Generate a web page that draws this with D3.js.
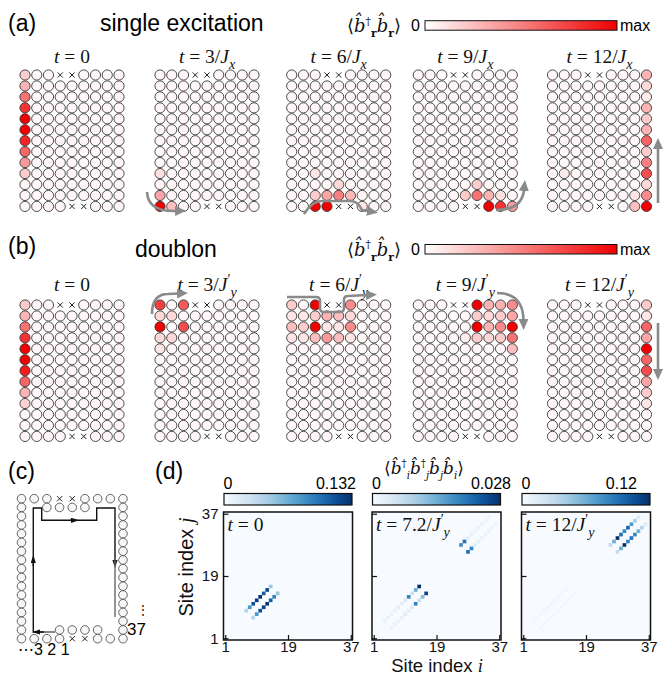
<!DOCTYPE html>
<html>
<head>
<meta charset="utf-8">
<script src="https://cdn.jsdelivr.net/npm/d3@7"></script>
<style>
  body { margin: 0; background: #fff; }
</style>
</head>
<body>
<svg id="fig" width="666" height="675"></svg>
<script>
// lattice shape
const gridCols = 9, gridRows = 13;
const blockedTop = [3, 4], blockedBottom = [4, 5];
const background = 0.03;   // faint occupation of every other site

// snapshot times (numerator of t)
const excitationTimes = ["0", "3", "6", "9", "12"];
const doublonTimes = ["0", "3", "6", "9", "12"];

// <b_r^+ b_r>, relative to max: [row, col, value]
const excitationT0 = [[0,0,.2],[1,0,.3],[2,0,.55],[3,0,.8],[4,0,1],[5,0,1],[6,0,.85],[7,0,.6],[8,0,.4],[9,0,.2]];
const excitationT3 = [[9,0,.12],[11,0,.35],[12,0,1],[12,1,.25]];
const excitationT6 = [[9,2,.1],[10,4,.15],[11,2,.2],[11,3,.35],[11,4,.5],[11,5,.28],[12,2,1],[12,3,1],[12,6,.1]];
const excitationT9 = [[10,5,.2],[11,4,.2],[11,5,.55],[11,6,.3],[11,7,.12],[12,6,1],[12,7,.8],[12,8,.38]];
const excitationT12 = [[0,8,.3],[1,8,.15],[2,8,.08],[3,8,.3],[4,8,.2],[5,8,.3],[6,8,.6],[7,8,.2],[8,8,.5],
                       [9,8,.7],[10,8,.15],[11,8,.45],[12,8,1],[12,7,.25],[11,7,.1],[9,1,.08]];

const doublonT0 = [[0,0,.2],[1,0,.3],[2,0,.55],[3,0,.8],[4,0,1],[5,0,1],[6,0,.9],[7,0,.6],[8,0,.3],[9,0,.18]];
const doublonT3 = [[0,0,.75],[0,2,.65],[1,0,.15],[1,1,.15],[2,0,1],[2,2,.7],[3,0,.15],[3,1,.15],[4,0,.1]];
const doublonT6 = [[0,0,.2],[0,2,1],[0,5,.45],[1,0,.1],[1,1,.1],[1,2,.2],[1,3,.3],[1,4,.25],[1,5,.15],
                   [2,0,.25],[2,1,.2],[2,2,1],[2,3,.1],[2,4,.1],[2,5,.45],[3,0,.1],[3,1,.1],[3,2,.25],
                   [3,3,.4],[3,4,.25],[3,5,.1]];
const doublonT9 = [[0,5,1],[0,6,.3],[0,7,.3],[0,8,.45],[1,5,.2],[1,6,.15],[1,7,.2],[1,8,.35],[2,5,1],
                   [2,6,.3],[2,7,.45],[2,8,1],[3,4,.08],[3,5,.2],[3,6,.15],[3,7,.2],[3,8,.55],[4,8,.25]];
const doublonT12 = [[0,8,.2],[1,8,.1],[2,8,.6],[3,8,.35],[4,8,1],[5,8,.6],[6,8,.7],[7,8,.35],[8,8,.2],[9,8,.1]];

// <b_i^+ b_j^+ b_j b_i>: [i, j, value]
const corrTimes = ["0", "7.2", "12"];
const corrMax = [0.132, 0.028, 0.12];
const corrMaxLabels = ["0.132", "0.028", "0.12"];
const siteTicks = [1, 19, 37];
const corrT0 = [
  [7,9,.04],[8,10,.08],[9,11,.115],[10,12,.125],[11,13,.132],[12,14,.11],[13,15,.12],[14,16,.05],
  [9,7,.04],[10,8,.08],[11,9,.115],[12,10,.125],[13,11,.13],[14,12,.11],[15,13,.09],[16,14,.05]
];
const corrT72 = [
  [11,13,.019],[12,14,.006],[13,15,.014],[14,16,.028],[13,11,.019],[14,12,.006],[15,13,.012],[16,14,.026],
  [4,6,.002],[5,7,.002],[6,8,.002],[7,9,.0025],[8,10,.003],[9,11,.003],[10,12,.004],
  [6,4,.002],[7,5,.002],[8,6,.002],[9,7,.0025],[10,8,.003],[11,9,.003],[12,10,.004],
  [26,28,.018],[27,29,.021],[28,26,.021],[29,27,.019],
  [28,30,.003],[29,31,.0025],[30,32,.002],[31,33,.002],[32,34,.002],[33,35,.0015],[34,36,.0015],
  [30,28,.003],[31,29,.0025],[32,30,.002],[33,31,.002],[34,32,.002],[35,33,.0015],[36,34,.0015]
];
const corrT12 = [
  [26,28,.03],[27,29,.06],[28,30,.12],[29,31,.09],[30,32,.08],[31,33,.095],[32,34,.07],[33,35,.04],[34,36,.015],
  [28,26,.03],[29,27,.06],[30,28,.12],[31,29,.08],[32,30,.09],[33,31,.08],[34,32,.06],[35,33,.035],[36,34,.015],
  [4,6,.004],[5,7,.004],[6,8,.004],[7,9,.005],[8,10,.005],[9,11,.005],[10,12,.005],[11,13,.005],[12,14,.004],[13,15,.004],[14,16,.003],
  [6,4,.004],[7,5,.004],[8,6,.004],[9,7,.005],[10,8,.005],[11,9,.005],[12,10,.005],[13,11,.005],[14,12,.004],[15,13,.004],[16,14,.003]
];

const sans = "'Liberation Sans', Arial, sans-serif";
const serif = "'Liberation Serif', 'DejaVu Serif', serif";
const svg = d3.select('#fig');
const defs = svg.append('defs');
const red = d3.interpolateRgb('#ffffff', '#f00000');

// arrow heads
function marker(id, color, len, half) {
  defs.append('marker').attr('id', id)
    .attr('viewBox', `0 ${-half} ${len} ${2 * half}`)
    .attr('markerUnits', 'userSpaceOnUse')
    .attr('markerWidth', len).attr('markerHeight', 2 * half)
    .attr('refX', 1).attr('refY', 0).attr('orient', 'auto')
    .append('path').attr('d', `M0,${-half}L${len},0L0,${half}Z`).attr('fill', color);
}
marker('grayHead', '#8a8a8a', 11, 5);
marker('blackHead', '#111', 8, 2.6);

// text with italic / sub / sup pieces
function mathText(g, x, y, size, parts, anchor, family) {
  const t = g.append('text').attr('x', x).attr('y', y)
    .attr('font-family', family || serif).attr('font-size', size)
    .attr('text-anchor', anchor || 'start').attr('fill', '#111');
  let cur = 0;
  parts.forEach(p => {
    const off = (p.off || 0) * size;
    const s = t.append('tspan').text(p.s).attr('dy', off - cur);
    cur = off;
    if (p.i) s.attr('font-style', 'italic');
    if (p.b) s.attr('font-weight', 'bold');
    if (p.fs) s.attr('font-size', size * p.fs);
  });
  return t;
}

// ---------- panels (a) and (b) ----------
const colX = [25, 160, 291.7, 418.3, 552.5];
const stepX = 11.75, stepY = 10.95, rad = 5.1;

function snapshot(cells, x0, y0) {
  const g = svg.append('g');
  const val = new Map(cells.map(d => [d[0] + ',' + d[1], d[2]]));
  const x = d3.scaleLinear().domain([0, gridCols - 1]).range([x0, x0 + stepX * (gridCols - 1)]);
  const y = d3.scaleLinear().domain([0, gridRows - 1]).range([y0, y0 + stepY * (gridRows - 1)]);
  const blocked = (r, c) => (r === 0 && blockedTop.includes(c)) || (r === gridRows - 1 && blockedBottom.includes(c));
  const sites = d3.cross(d3.range(gridRows), d3.range(gridCols)).map(([r, c]) => ({ r, c }));
  g.selectAll('circle').data(sites.filter(s => !blocked(s.r, s.c))).join('circle')
    .attr('cx', s => x(s.c)).attr('cy', s => y(s.r)).attr('r', rad)
    .attr('fill', s => red(val.has(s.r + ',' + s.c) ? val.get(s.r + ',' + s.c) : background))
    .attr('stroke', '#3a3a3a').attr('stroke-width', 0.9);
  const crosses = sites.filter(s => blocked(s.r, s.c));
  g.selectAll('path.x').data(crosses).join('path')
    .attr('d', s => `M${x(s.c) - 2.6},${y(s.r) - 2.6}L${x(s.c) + 2.6},${y(s.r) + 2.6}M${x(s.c) - 2.6},${y(s.r) + 2.6}L${x(s.c) + 2.6},${y(s.r) - 2.6}`)
    .attr('stroke', '#222').attr('stroke-width', 1);
}

function timeLabel(cx, y, num, prime) {
  const parts = [{ s: 't', i: 1 }, { s: ' = ' + num }];
  if (num !== '0') {
    parts.push({ s: '/' }, { s: 'J', i: 1 });
    if (prime) parts.push({ s: '′', off: -0.35, fs: 0.7 }, { s: 'y', i: 1, off: 0.3, fs: 0.72 });
    else parts.push({ s: 'x', i: 1, off: 0.3, fs: 0.72 });
  }
  mathText(svg, cx, y, 19.5, parts, 'middle');
}

function colorbarRed(y) {
  const id = 'redGrad';
  if (defs.select('#' + id).empty()) {
    const gr = defs.append('linearGradient').attr('id', id);
    d3.range(0, 1.01, 0.1).forEach(t => gr.append('stop').attr('offset', t).attr('stop-color', red(t)));
  }
  svg.append('rect').attr('x', 425).attr('y', y).attr('width', 192).attr('height', 9.5)
    .attr('fill', `url(#${id})`).attr('stroke', '#111').attr('stroke-width', 1);
  svg.append('text').attr('x', 420).attr('y', y + 10).attr('text-anchor', 'end')
    .attr('font-family', sans).attr('font-size', 16).text('0');
  svg.append('text').attr('x', 620).attr('y', y + 10)
    .attr('font-family', sans).attr('font-size', 16).text('max');
  mathText(svg, 347, y + 11, 18, [
    { s: '⟨' }, { s: 'b̂', i: 1 }, { s: '†', off: -0.4, fs: 0.6 },
    { s: 'r', b: 1, off: 0.3, fs: 0.6 }, { s: 'b̂', i: 1, off: 0 },
    { s: 'r', b: 1, off: 0.3, fs: 0.6 }, { s: '⟩', off: 0 }
  ], 'start', "'DejaVu Serif', serif");
}

// (a)
svg.append('text').attr('x', 8).attr('y', 31).attr('font-family', sans).attr('font-size', 23).text('(a)');
svg.append('text').attr('x', 100).attr('y', 31).attr('font-family', sans).attr('font-size', 23).text('single excitation');
colorbarRed(20.7);
[excitationT0, excitationT3, excitationT6, excitationT9, excitationT12].forEach((cells, k) => {
  snapshot(cells, colX[k], 75);
  timeLabel(colX[k] + 4 * stepX, 63, excitationTimes[k], false);
});

// (b)
svg.append('text').attr('x', 8).attr('y', 254).attr('font-family', sans).attr('font-size', 23).text('(b)');
svg.append('text').attr('x', 135).attr('y', 257).attr('font-family', sans).attr('font-size', 23).text('doublon');
colorbarRed(244.5);
[doublonT0, doublonT3, doublonT6, doublonT9, doublonT12].forEach((cells, k) => {
  snapshot(cells, colX[k], 305);
  timeLabel(colX[k] + 4 * stepX, 291, doublonTimes[k], true);
});

// gray guide arrows
const grayArrows = [
  'M147,192 Q148,212 176,211',
  'M304,214 Q312,201 322,201 L350,201 Q358,201 362,210 L368,211',
  'M496,210 Q522,210 524,190',
  'M658,203 L658,148',
  'M152,314 Q152,294 168,294 L178,293.5',
  'M287,297 L316,297 Q320,297 320,301 L320,308 Q320,312 324,312 L340,312 Q344,312 344,308 L344,300 Q344,296 348,296 L367,295',
  'M497,293 Q523,293 523.5,320',
  'M658,323 L658,370'
];
svg.append('g').selectAll('path').data(grayArrows).join('path')
  .attr('d', d => d).attr('fill', 'none').attr('stroke', '#8a8a8a').attr('stroke-width', 2.6)
  .attr('marker-end', 'url(#grayHead)');

// ---------- panel (c) ----------
svg.append('text').attr('x', 8).attr('y', 479).attr('font-family', sans).attr('font-size', 23).text('(c)');
const ringCols = 9, ringRows = 17;
const rx = d3.scaleLinear().domain([0, ringCols - 1]).range([21.5, 123]);
const ry = d3.scaleLinear().domain([0, ringRows - 1]).range([498.7, 638.7]);
const ringSites = [];
d3.range(ringRows).forEach(r => d3.range(ringCols).forEach(c => {
  let kind = null;
  if (r === 0) kind = blockedTop.includes(c) ? 'x' : 'o';
  else if (r === ringRows - 1) kind = blockedBottom.includes(c) ? 'x' : 'o';
  else if (c === 0 || c === ringCols - 1) kind = 'o';
  else if (r === 1 && c >= 2 && c <= 5) kind = 'o';
  else if (r === ringRows - 2 && c >= 3 && c <= 6) kind = 'o';
  if (kind) ringSites.push({ r, c, kind });
}));
const gc = svg.append('g');
gc.selectAll('circle').data(ringSites.filter(s => s.kind === 'o')).join('circle')
  .attr('cx', s => rx(s.c)).attr('cy', s => ry(s.r)).attr('r', 4.3)
  .attr('fill', '#f7f7f7').attr('stroke', '#555').attr('stroke-width', 0.9);
gc.selectAll('path.x').data(ringSites.filter(s => s.kind === 'x')).join('path')
  .attr('d', s => `M${rx(s.c) - 2.6},${ry(s.r) - 2.6}L${rx(s.c) + 2.6},${ry(s.r) + 2.6}M${rx(s.c) - 2.6},${ry(s.r) + 2.6}L${rx(s.c) + 2.6},${ry(s.r) - 2.6}`)
  .attr('stroke', '#222').attr('stroke-width', 1);
const ringPath = [
  { d: 'M55,632 L39,632', c: '#555', head: true },
  { d: 'M44,632 L33.3,632 L33.3,562', c: '#111', head: true },
  { d: 'M33.3,566 L33.3,508 L41.7,508 L41.7,520.3 L72,520.3', c: '#111', head: true },
  { d: 'M70,520.3 L96.7,520.3 L96.7,508 L115,508 L115,561', c: '#111', head: true },
  { d: 'M115,558 L115,617', c: '#666', head: false }
];
gc.selectAll('path.ring').data(ringPath).join('path')
  .attr('d', p => p.d).attr('fill', 'none').attr('stroke', p => p.c).attr('stroke-width', 1.4)
  .attr('marker-end', p => p.head ? 'url(#blackHead)' : null);
gc.append('text').attr('x', 127).attr('y', 635).attr('font-family', sans).attr('font-size', 17).text('37');
gc.append('text').attr('x', 137).attr('y', 614).attr('font-family', sans).attr('font-size', 12).text('⋮');
gc.append('text').attr('x', 18).attr('y', 655).attr('font-family', sans).attr('font-size', 16).text('⋯3 2 1');

// ---------- panel (d) ----------
svg.append('text').attr('x', 155).attr('y', 479).attr('font-family', sans).attr('font-size', 23).text('(d)');
const heatX = [223.5, 372, 521.5], heatY = 512, heatW = 129, heatH = 128;
const maxRight = [356, 511, 637];
const corrSets = [corrT0, corrT72, corrT12];
const sitesAll = d3.range(1, 38);

corrSets.forEach((cells, k) => {
  const x0 = heatX[k];
  const g = svg.append('g');
  const xb = d3.scaleBand().domain(sitesAll).range([x0, x0 + heatW]);
  const yb = d3.scaleBand().domain(sitesAll).range([heatY + heatH, heatY]);
  const color = v => d3.interpolateBlues(Math.min(1, v / corrMax[k]));
  g.append('rect').attr('x', x0).attr('y', heatY).attr('width', heatW).attr('height', heatH).attr('fill', color(0));
  g.selectAll('rect.cell').data(cells).join('rect').attr('class', 'cell')
    .attr('x', d => xb(d[0])).attr('y', d => yb(d[1]))
    .attr('width', xb.bandwidth() + 0.2).attr('height', yb.bandwidth() + 0.2)
    .attr('fill', d => color(d[2]));

  const xl = d3.scaleLinear().domain([0.5, 37.5]).range([x0, x0 + heatW]);
  const yl = d3.scaleLinear().domain([0.5, 37.5]).range([heatY + heatH, heatY]);
  const ax = g.append('g').attr('transform', `translate(0,${heatY + heatH})`)
    .call(d3.axisBottom(xl).tickValues(siteTicks).tickSizeInner(-5).tickSizeOuter(0).tickPadding(1.5));
  const ay = g.append('g').attr('transform', `translate(${x0},0)`)
    .call(d3.axisLeft(yl).tickValues(siteTicks).tickSizeInner(-5).tickSizeOuter(0).tickPadding(5)
      .tickFormat(k === 0 ? d3.format('d') : () => ''));
  [ax, ay].forEach(a => {
    a.select('.domain').remove();
    a.selectAll('line').attr('stroke', '#111').attr('stroke-width', 1.2);
    a.selectAll('text').attr('font-family', sans).attr('font-size', 15).attr('fill', '#111');
  });
  g.append('rect').attr('x', x0).attr('y', heatY).attr('width', heatW).attr('height', heatH)
    .attr('fill', 'none').attr('stroke', '#111').attr('stroke-width', 1.5);

  // colorbar
  const gid = 'blues' + k;
  const gr = defs.append('linearGradient').attr('id', gid);
  d3.range(0, 1.01, 0.1).forEach(t => gr.append('stop').attr('offset', t).attr('stop-color', d3.interpolateBlues(t)));
  g.append('rect').attr('x', x0 + 0.5).attr('y', 493.5).attr('width', heatW - 1).attr('height', 11.5)
    .attr('fill', `url(#${gid})`).attr('stroke', '#111').attr('stroke-width', 1.2);
  g.append('text').attr('x', x0).attr('y', 489).attr('font-family', sans).attr('font-size', 16).text('0');
  g.append('text').attr('x', maxRight[k]).attr('y', 489).attr('text-anchor', 'end')
    .attr('font-family', sans).attr('font-size', 16).text(corrMaxLabels[k]);

  const parts = [{ s: 't', i: 1 }, { s: ' = ' + corrTimes[k] }];
  if (k > 0) parts.push({ s: '/' }, { s: 'J', i: 1 }, { s: '′', off: -0.35, fs: 0.7 }, { s: 'y', i: 1, off: 0.3, fs: 0.72 });
  mathText(g, x0 + 4, heatY + 19, 19.5, parts, 'start');
});

mathText(svg, 384, 474, 17, [
  { s: '⟨' }, { s: 'b̂', i: 1 }, { s: '†', off: -0.4, fs: 0.6 }, { s: 'i', i: 1, off: 0.3, fs: 0.6 },
  { s: 'b̂', i: 1, off: 0 }, { s: '†', off: -0.4, fs: 0.6 }, { s: 'j', i: 1, off: 0.3, fs: 0.6 },
  { s: 'b̂', i: 1, off: 0 }, { s: 'j', i: 1, off: 0.3, fs: 0.6 },
  { s: 'b̂', i: 1, off: 0 }, { s: 'i', i: 1, off: 0.3, fs: 0.6 }, { s: '⟩', off: 0 }
], 'start', "'DejaVu Serif', serif");

// axis titles
const ty = svg.append('text').attr('transform', 'translate(193,567) rotate(-90)')
  .attr('text-anchor', 'middle').attr('font-family', sans).attr('font-size', 20).attr('fill', '#111');
ty.append('tspan').text('Site index ');
ty.append('tspan').text('j').attr('font-family', serif).attr('font-style', 'italic');
const tx = svg.append('text').attr('x', 437).attr('y', 672)
  .attr('text-anchor', 'middle').attr('font-family', sans).attr('font-size', 18.5).attr('fill', '#111');
tx.append('tspan').text('Site index ');
tx.append('tspan').text('i').attr('font-family', serif).attr('font-style', 'italic');
</script>
</body>
</html>
